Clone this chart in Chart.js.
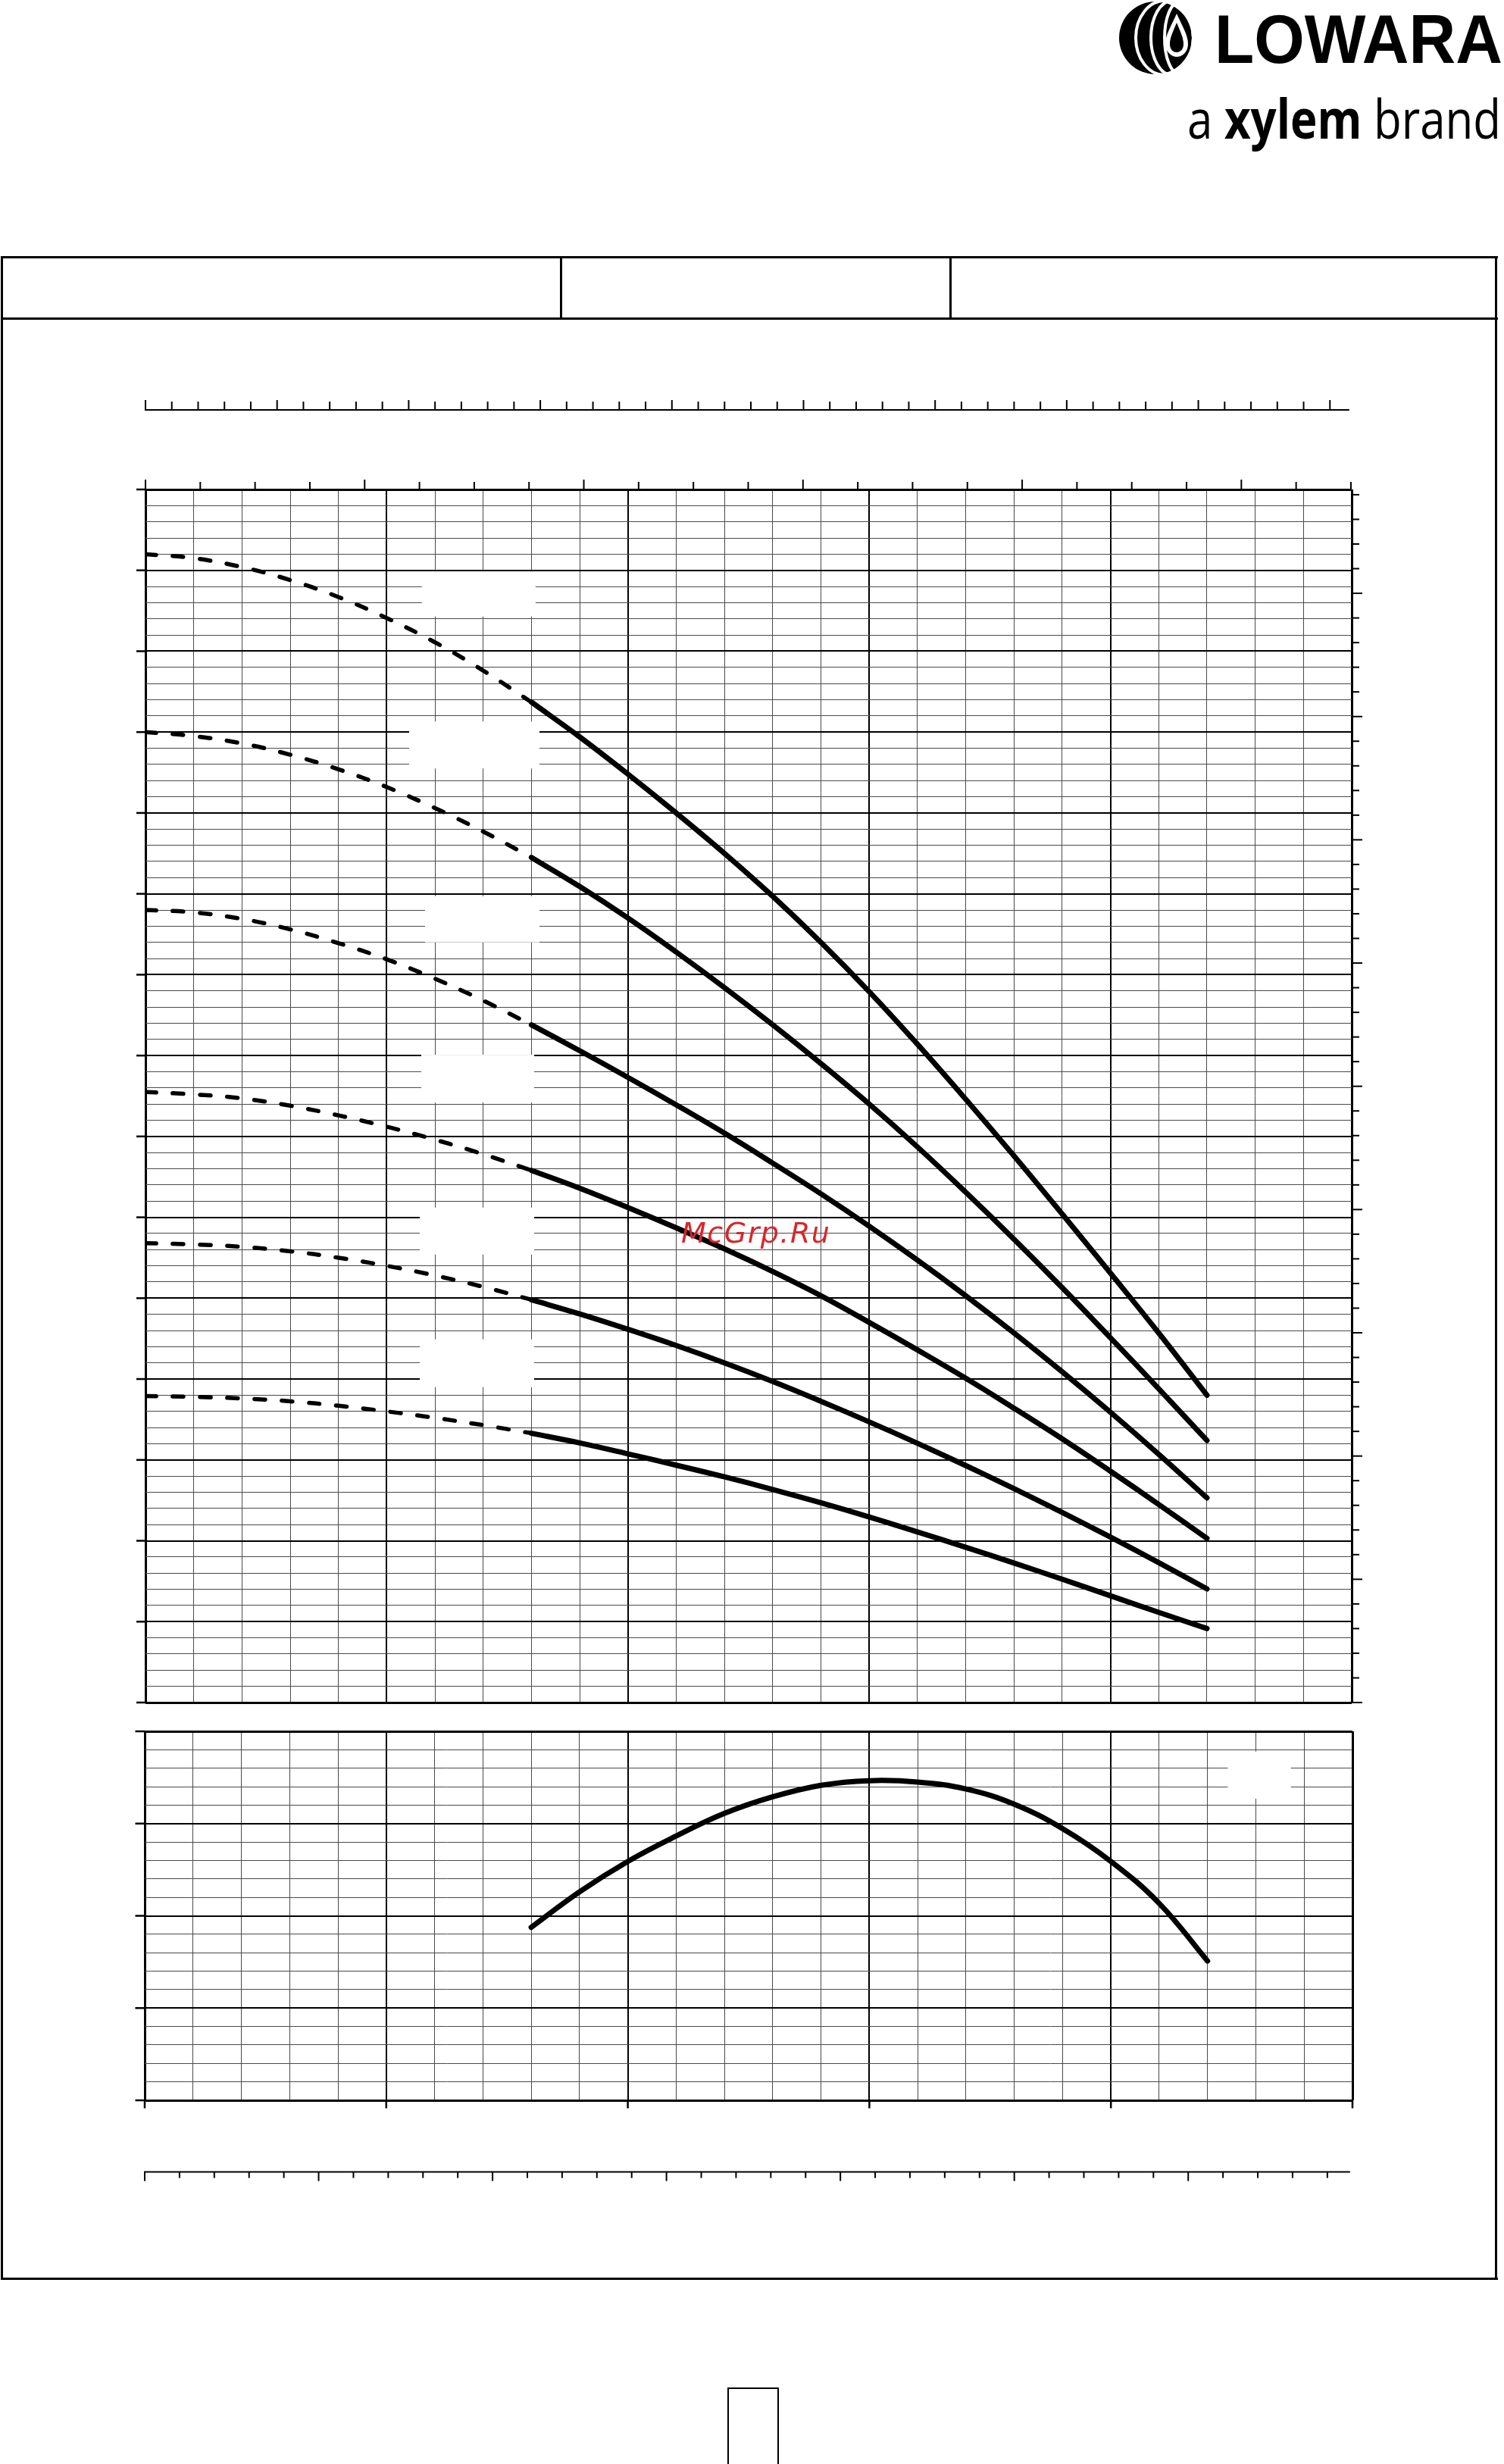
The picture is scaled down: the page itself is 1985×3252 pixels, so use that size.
<!DOCTYPE html>
<html>
<head>
<meta charset="utf-8">
<script src="https://cdn.jsdelivr.net/npm/chart.js@4.4.0/dist/chart.umd.min.js"></script>
<style>
  html, body { margin: 0; padding: 0; background: #fff; }
  body { width: 1985px; height: 3252px; position: relative; overflow: hidden; }
  .ln { position: absolute; background: #000; }
  canvas { position: absolute; left: 0; }
  #pageBox { position: absolute; left: 960px; top: 3151px; width: 64px; height: 120px; border: 2px solid #000; }
  #wm { position: absolute; left: 899px; top: 1608px; font: italic 38px "DejaVu Sans"; line-height: 38px;
        letter-spacing: 1.5px; color: #d8262b; z-index: 5; white-space: nowrap; }
</style>
</head>
<body>

<!-- logo -->
<svg width="1985" height="220" style="position:absolute;left:0;top:0">
  <circle cx="1525" cy="50" r="48" fill="#000"/>
  <g fill="none" stroke="#fff" stroke-width="4">
    <ellipse cx="1537" cy="50" rx="38" ry="49"/>
    <ellipse cx="1547" cy="50" rx="28" ry="49"/>
    <ellipse cx="1556" cy="50" rx="19" ry="47"/>
  </g>
  <path d="M1553 18 C1546 34 1538 46 1538 58 C1538 68 1546 75 1553 75 C1561 75 1568 68 1568 58 C1568 46 1560 34 1553 18 Z" fill="#fff"/>
  <path d="M1553 30 C1548 42 1544 50 1544 58 C1544 65 1548 69 1553 69 C1558 69 1562 65 1562 58 C1562 50 1558 42 1553 30 Z" fill="#000"/>
  <text x="1603" y="83" font-family="Liberation Sans" font-weight="bold" font-size="91"
        textLength="380" lengthAdjust="spacingAndGlyphs">LOWARA</text>
  <text x="1567" y="183" font-family="Open Sans" font-size="72" textLength="414"
        lengthAdjust="spacingAndGlyphs">a <tspan font-weight="bold">xylem</tspan> brand</text>
</svg>

<!-- page frame and header row -->
<div class="ln" style="left:1px;top:338px;width:1976px;height:3px"></div>
<div class="ln" style="left:1px;top:419px;width:1976px;height:3px"></div>
<div class="ln" style="left:1px;top:3006px;width:1976px;height:3px"></div>
<div class="ln" style="left:1px;top:338px;width:3px;height:2671px"></div>
<div class="ln" style="left:1973px;top:338px;width:3px;height:2671px"></div>
<div class="ln" style="left:739px;top:338px;width:3px;height:83px"></div>
<div class="ln" style="left:1253px;top:338px;width:3px;height:83px"></div>

<canvas id="headChart" width="1985" height="1820" style="top:480px"></canvas>
<canvas id="effChart" width="1985" height="700" style="top:2260px"></canvas>

<div id="wm">McGrp.Ru</div>
<div id="pageBox"></div>

<script>
// flow points (m3/h) shared by all head curves
const flowQ = [0, 2, 4, 6, 8, 10, 12, 14, 16, 18, 20, 22, 24, 26, 28, 30, 32, 34, 36, 38, 40, 42, 44];
// head (m), one array per pump size, top to bottom
const headA = [142, 141.5, 140.4, 138.8, 136.7, 134.1, 131.1, 127.6, 123.7, 119.4, 114.8, 110.0, 105.0, 99.7, 94.0, 87.9, 81.4, 74.6, 67.6, 60.4, 53.1, 45.7, 38];
const headB = [120, 119.5, 118.6, 117.2, 115.4, 113.2, 110.6, 107.7, 104.5, 100.9, 97.0, 92.8, 88.4, 83.8, 79.0, 74.0, 68.7, 63.1, 57.3, 51.3, 45.1, 38.8, 32.4];
const headC = [98, 97.7, 96.9, 95.6, 93.9, 91.9, 89.5, 86.8, 83.8, 80.6, 77.3, 73.9, 70.4, 66.7, 62.9, 58.9, 54.7, 50.3, 45.7, 40.9, 35.9, 30.7, 25.3];
const headD = [75.5, 75.2, 74.7, 73.8, 72.6, 71.2, 69.6, 67.8, 65.8, 63.6, 61.2, 58.7, 56.1, 53.3, 50.3, 47.0, 43.6, 40.1, 36.4, 32.6, 28.6, 24.5, 20.3];
const headE = [56.8, 56.65, 56.35, 55.8, 55.0, 54.0, 52.8, 51.4, 49.8, 48.05, 46.15, 44.15, 42.0, 39.7, 37.25, 34.7, 32.05, 29.3, 26.45, 23.5, 20.45, 17.3, 14.05];
const headF = [37.9, 37.8, 37.6, 37.25, 36.7, 36.0, 35.2, 34.3, 33.3, 32.1, 30.75, 29.35, 27.9, 26.35, 24.7, 22.95, 21.1, 19.2, 17.25, 15.25, 13.2, 11.15, 9.15];
const dashedUpTo = 16; // below this flow the curves are drawn dashed

// efficiency curve (%)
const effQ = [16, 18, 20, 22, 24, 26, 28, 30, 32, 34, 36, 38, 40, 42, 44];
const effEta = [37.5, 45.2, 51.8, 57.3, 62.2, 65.8, 68.3, 69.3, 69.0, 67.5, 64.2, 58.9, 51.8, 42.7, 30.2];

// axis ranges
const qMax = 50, hMax = 150, etaMax = 80;

// secondary unit scales (step, count) and conversions to m3/h or m
const usGpmTicks = { step: 10, count: 22, long: 4, toBase: 0.2271247 };
const impGpmTicks = { step: 4, count: 45, long: 5, toBase: 0.2727654 };
const ftTicks = { step: 10, count: 49, long: 5, toBase: 0.3048 };
const lpsTicks = { step: 0.4, count: 34, long: 5, toBase: 3.6 };

// blank label areas (q0, q1, v0, v1) left in the original sheet
const headLabelBoxes = [
  [11.46, 16.17, 134.3, 139.85],
  [10.93, 16.33, 115.5, 121.3],
  [11.59, 16.33, 94.0, 99.7],
  [11.43, 16.11, 74.2, 80.1],
  [11.37, 16.11, 55.4, 61.2],
  [11.37, 16.11, 39.0, 44.9]
];
const effLabelBoxes = [[44.84, 47.45, 65.4, 75.6]];

function gridStyle(major, max) {
  return {
    drawTicks: false,
    color: c => (Math.round(c.tick.value) % major === 0 ? '#000' : '#4a4a4a'),
    lineWidth: c => {
      const v = Math.round(c.tick.value);
      if (v === 0 || v === max) return 3;
      return v % major === 0 ? 2 : 1;
    }
  };
}

function line(ctx, x1, y1, x2, y2, w) {
  ctx.lineWidth = w;
  ctx.beginPath();
  ctx.moveTo(x1, y1);
  ctx.lineTo(x2, y2);
  ctx.stroke();
}

const masks = boxes => ({
  id: 'masks',
  beforeDatasetsDraw(chart) {
    const { ctx, scales: { x, y } } = chart;
    ctx.save();
    ctx.fillStyle = '#fff';
    boxes.forEach(([q0, q1, v0, v1]) => {
      const l = x.getPixelForValue(q0), r = x.getPixelForValue(q1);
      const t = y.getPixelForValue(v1), b = y.getPixelForValue(v0);
      ctx.fillRect(l, t, r - l, b - t);
    });
    ctx.restore();
  }
});

const baseOptions = (yMax, yStep, yMajor, pad) => ({
  responsive: false,
  animation: false,
  events: [],
  layout: { padding: pad },
  plugins: { legend: { display: false }, tooltip: { enabled: false } },
  elements: { point: { radius: 0 } },
  scales: {
    x: { type: 'linear', min: 0, max: qMax, ticks: { display: false, stepSize: 2 },
         grid: gridStyle(10, qMax), border: { display: false } },
    y: { type: 'linear', min: 0, max: yMax, ticks: { display: false, stepSize: yStep },
         grid: gridStyle(yMajor, yMax), border: { display: false } }
  }
});

const curveStyle = { borderColor: '#000', fill: false, tension: 0.4,
                     borderCapStyle: 'round', borderJoinStyle: 'round' };

// head chart
const headSets = [headA, headB, headC, headD, headE, headF].flatMap(h => {
  const pts = flowQ.map((q, i) => ({ x: q, y: h[i] }));
  return [
    { ...curveStyle, data: pts.filter(p => p.x <= dashedUpTo), borderWidth: 5.5, borderDash: [14, 22] },
    { ...curveStyle, data: pts.filter(p => p.x >= dashedUpTo), borderWidth: 7 }
  ];
});

const headAxes = {
  id: 'headAxes',
  afterDraw(chart) {
    const { ctx, chartArea: { left, right, top }, scales: { x, y } } = chart;
    ctx.save();
    ctx.strokeStyle = '#000';
    for (let v = 0; v <= hMax; v += 10) {
      const py = y.getPixelForValue(v);
      line(ctx, left - 12, py, left, py, 2.5);
    }
    for (let i = 0; i <= ftTicks.count; i++) {
      const py = y.getPixelForValue(i * ftTicks.step * ftTicks.toBase);
      line(ctx, right, py, right + (i % ftTicks.long === 0 ? 14 : 10), py, 2);
    }
    for (let i = 0; i <= usGpmTicks.count; i++) {
      const px = x.getPixelForValue(i * usGpmTicks.step * usGpmTicks.toBase);
      line(ctx, px, top, px, top - (i % usGpmTicks.long === 0 ? 13 : 10), 2);
    }
    const ya = top - 105;
    line(ctx, x.getPixelForValue(0) - 1, ya, x.getPixelForValue(49.9), ya, 2);
    for (let i = 0; i <= impGpmTicks.count; i++) {
      const px = x.getPixelForValue(i * impGpmTicks.step * impGpmTicks.toBase);
      line(ctx, px, ya, px, ya - (i % impGpmTicks.long === 0 ? 13 : 11), 2);
    }
    ctx.restore();
  }
};

new Chart(document.getElementById('headChart'), {
  type: 'line',
  data: { datasets: headSets },
  options: baseOptions(hMax, 2, 10, { left: 192, right: 201, top: 166, bottom: 53 }),
  plugins: [masks(headLabelBoxes), headAxes]
});

// efficiency chart
const effAxes = {
  id: 'effAxes',
  afterDraw(chart) {
    const { ctx, chartArea: { left, bottom }, scales: { x, y } } = chart;
    ctx.save();
    ctx.strokeStyle = '#000';
    for (let v = 0; v <= etaMax; v += 20) {
      const py = y.getPixelForValue(v);
      line(ctx, left - 12.5, py, left, py, 2.5);
    }
    for (let q = 0; q <= qMax; q += 10) {
      const px = x.getPixelForValue(q);
      line(ctx, px, bottom, px, bottom + 10.5, 2.5);
    }
    const yb = bottom + 94.5;
    line(ctx, x.getPixelForValue(0) - 1, yb, x.getPixelForValue(49.9), yb, 2);
    for (let i = 0; i <= lpsTicks.count; i++) {
      const px = x.getPixelForValue(i * lpsTicks.step * lpsTicks.toBase);
      line(ctx, px, yb, px, yb + (i % lpsTicks.long === 0 ? 12 : 8), 2);
    }
    ctx.restore();
  }
};

new Chart(document.getElementById('effChart'), {
  type: 'line',
  data: { datasets: [{ ...curveStyle, borderWidth: 7, data: effQ.map((q, i) => ({ x: q, y: effEta[i] })) }] },
  options: baseOptions(etaMax, 4, 20, { left: 191, right: 200, top: 25, bottom: 188 }),
  plugins: [masks(effLabelBoxes), effAxes]
});
</script>
</body>
</html>
